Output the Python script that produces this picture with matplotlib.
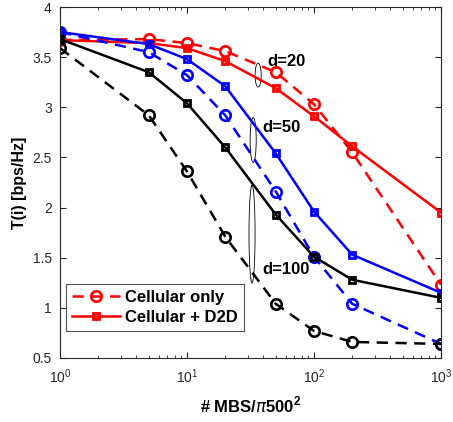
import numpy as np
import matplotlib
matplotlib.use("Agg")
import matplotlib.pyplot as plt
from matplotlib.patches import Ellipse

plt.rcParams["font.family"] = ["Liberation Sans", "DejaVu Sans"]
plt.rcParams["mathtext.fontset"] = "custom"
plt.rcParams["mathtext.rm"] = "Liberation Sans"
plt.rcParams["mathtext.bf"] = "Liberation Sans:bold"

# data
mbs = [1, 5, 10, 20, 50, 100, 200, 1000]

cell_d20 = [3.67, 3.68, 3.64, 3.56, 3.35, 3.03, 2.55, 1.23]
d2d_d20 = [3.67, 3.64, 3.59, 3.46, 3.19, 2.91, 2.61, 1.95]
cell_d50 = [3.75, 3.55, 3.32, 2.92, 2.16, 1.51, 1.04, 0.64]
d2d_d50 = [3.75, 3.63, 3.48, 3.21, 2.54, 1.96, 1.53, 1.15]
cell_d100 = [3.59, 2.92, 2.36, 1.71, 1.04, 0.77, 0.66, 0.64]
d2d_d100 = [3.68, 3.35, 3.04, 2.60, 1.93, 1.51, 1.28, 1.10]

yticks = [0.5, 1, 1.5, 2, 2.5, 3, 3.5, 4]
yticklabels = ["0.5", "1", "1.5", "2", "2.5", "3", "3.5", "4"]

fig = plt.figure(figsize=(4.53, 4.22), dpi=100)
ax = fig.add_axes([0.1325, 0.1517, 0.841, 0.8317])

series = [
    (cell_d20, d2d_d20, "red"),
    (cell_d50, d2d_d50, "blue"),
    (cell_d100, d2d_d100, "black"),
]
handles = []
for cell, d2d, col in series:
    h1, = ax.plot(mbs, cell, "--o", color=col, lw=1.8, ms=7.5, mew=1.9,
                  mfc="none", dashes=(4.5, 3))
    h2, = ax.plot(mbs, d2d, "-s", color=col, lw=1.8, ms=5, mew=2, mfc="none")
    handles.append((h1, h2))

ax.set_xscale("log")
ax.set_xlim(1, 1000)
ax.set_ylim(0.5, 4)
ax.set_yticks(yticks)
ax.set_yticklabels(yticklabels)
ax.tick_params(which="both", direction="in", top=True, right=True,
               labelsize=10, colors="#262626")
ax.tick_params(axis="y", pad=6)
ax.tick_params(axis="x", pad=7)
ax.tick_params(which="major", length=4)
ax.tick_params(which="minor", length=2)
for s in ax.spines.values():
    s.set_color("#262626")
    s.set_linewidth(0.8)

ax.set_xlabel(r"# MBS/$\pi$500$^\mathbf{2}$", fontsize=12, fontweight="bold",
              labelpad=6)
ax.set_ylabel("T(i) [bps/Hz]", fontsize=11.5, fontweight="bold", labelpad=4)

# ellipses grouping the curves
for cx, cy, h in [(0.52, 0.806, 0.068), (0.507, 0.621, 0.128), (0.504, 0.353, 0.279)]:
    ax.add_patch(Ellipse((cx, cy), 0.016, h, transform=ax.transAxes,
                         fill=False, ec="black", lw=0.6))

ax.text(43, 3.46, "d=20", fontsize=12, fontweight="bold", va="center")
ax.text(39, 2.80, "d=50", fontsize=12, fontweight="bold", va="center")
ax.text(39, 1.38, "d=100", fontsize=12, fontweight="bold", va="center")

leg = ax.legend(handles[0], ["Cellular only", "Cellular + D2D"],
                loc="lower left", bbox_to_anchor=(0.016, 0.077),
                prop={"weight": "bold", "size": 12}, fancybox=False,
                edgecolor="#262626", handlelength=2.9, borderpad=0.35,
                labelspacing=0.3, handletextpad=0.3, borderaxespad=0)
leg.get_frame().set_linewidth(0.8)

fig.savefig("out.png", dpi=100)
